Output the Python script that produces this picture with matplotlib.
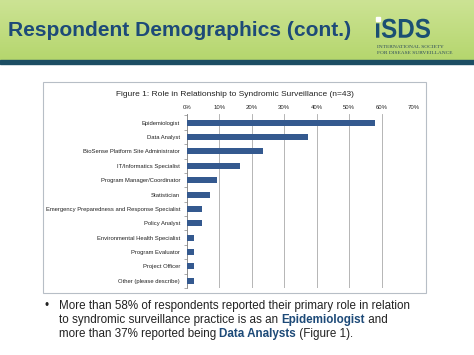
import numpy as np
import matplotlib
matplotlib.use('Agg')
import matplotlib.pyplot as plt
from matplotlib.patches import Rectangle, PathPatch
from matplotlib.textpath import TextPath
from matplotlib.font_manager import FontProperties
from matplotlib.transforms import Affine2D

# Data (n=43)
ROLES = ['Epidemiologist', 'Data Analyst', 'BioSense Platform Site Administrator',
         'IT/Informatics Specialist', 'Program Manager/Coordinator', 'Statistician',
         'Emergency Preparedness and Response Specialist', 'Policy Analyst',
         'Environmental Health Specialist', 'Program Evaluator', 'Project Officer',
         'Other (please describe)']
PCT = [58.1, 37.2, 23.3, 16.3, 9.3, 7.0, 4.7, 4.7, 2.3, 2.3, 2.3, 2.3]
XTICKS = [0, 10, 20, 30, 40, 50, 60, 70]

W, H = 474, 355
BAR = '#34598f'
DARK = '#1d4a78'
FONT = 'Liberation Sans'

fig = plt.figure(figsize=(W / 100, H / 100), dpi=100)

# background / header
bg = fig.add_axes([0, 0, 1, 1])
bg.set_xlim(0, W)
bg.set_ylim(H, 0)
bg.axis('off')
grad = np.linspace(0, 1, 60)[:, None]
hdr = np.ones((60, 200, 3))
top = np.array([0.80, 0.89, 0.58])
bot = np.array([0.71, 0.84, 0.43])
hdr[:] = (top * (1 - grad) + bot * grad)[:, None, :]
bg.imshow(hdr, extent=(0, W, 60, 0), aspect='auto', zorder=0)
bg.add_patch(Rectangle((0, 60), W, 4, color='#1c4e64', zorder=1))
bg.text(8, 31, 'Respondent Demographics (cont.)', fontsize=15.1, fontweight='bold',
        color=DARK, family=FONT, va='center', ha='left')

# logo: squeeze the letters into the box they take on the slide
tp = TextPath((0, 0), 'iSDS', size=10, prop=FontProperties(family=FONT, weight='bold'))
ext = tp.get_extents()
sx = (430 - 376) / ext.width
sy = (38 - 18) / ext.height
tr = Affine2D().translate(-ext.x0, -ext.y0).scale(sx, -sy).translate(376, 38)
bg.add_patch(PathPatch(tr.transform_path(tp), color='#1b4f73', lw=0, zorder=2))
bg.add_patch(Rectangle((376.5, 17), 3.5, 3.5, color='white', zorder=3))
bg.text(377, 47, 'INTERNATIONAL SOCIETY', fontsize=3.9, color='#2c4a5a',
        family='Liberation Serif', va='center', ha='left')
bg.text(377, 53, 'FOR DISEASE SURVEILLANCE', fontsize=3.9, color='#2c4a5a',
        family='Liberation Serif', va='center', ha='left')

# chart frame
bg.add_patch(Rectangle((43, 82), 383, 211, facecolor='white', edgecolor='#b7bec6',
                       lw=0.8, zorder=1))
bg.text(235, 95, 'Figure 1: Role in Relationship to Syndromic Surveillance (n=43)',
        fontsize=6.0, family=FONT, color='#222222', ha='center', va='center', zorder=2)

# bullet text
y0 = 306
bg.text(45, y0, '\u2022', fontsize=8.4, family=FONT, color='#222222', va='center')
lines = [
    [('More than 58% of respondents reported their primary role in relation', False)],
    [('to syndromic surveillance practice is as an ', False), ('Epidemiologist', True),
     (' and', False)],
    [('more than 37% reported being ', False), ('Data Analysts', True),
     (' (Figure 1).', False)],
]
fig.canvas.draw()
r = fig.canvas.get_renderer()
for i, segs in enumerate(lines):
    x = 59
    for s, b in segs:
        t = bg.text(x, y0 + i * 14, s, fontsize=8.4, family=FONT,
                    fontweight='bold' if b else 'normal',
                    color=DARK if b else '#222222', va='center', ha='left')
        bb = t.get_window_extent(renderer=r)
        x += bb.width

# bar chart
ax = fig.add_axes([187 / W, 1 - 288 / H, (414 - 187) / W, (288 - 114) / H])
y = np.arange(len(ROLES))
ax.barh(y, PCT, height=0.42, color=BAR, zorder=3)
ax.set_xlim(0, 70)
ax.set_ylim(11.5, -0.6)
ax.set_xticks(XTICKS)
ax.set_xticklabels([f'{v}%' for v in XTICKS])
ax.xaxis.tick_top()
ax.xaxis.grid(True, color='#a9a9a9', lw=0.6)
ax.set_yticks(y)
ax.set_yticklabels(ROLES)
ax.set_yticks(np.arange(-0.5, 12, 1), minor=True)
ax.tick_params(axis='y', which='major', length=0, pad=5, labelsize=4.2, labelcolor='#222222')
ax.tick_params(axis='y', which='minor', length=2, color='#888888', width=0.5)
ax.tick_params(axis='x', length=0, pad=3, labelsize=4.3, labelcolor='#222222')
for lab in ax.get_xticklabels() + ax.get_yticklabels():
    lab.set_family(FONT)
for k in ['top', 'right', 'bottom']:
    ax.spines[k].set_visible(False)
ax.spines['left'].set_color('#888888')
ax.spines['left'].set_linewidth(0.6)
ax.set_facecolor('none')

fig.savefig('out.png', dpi=100)
